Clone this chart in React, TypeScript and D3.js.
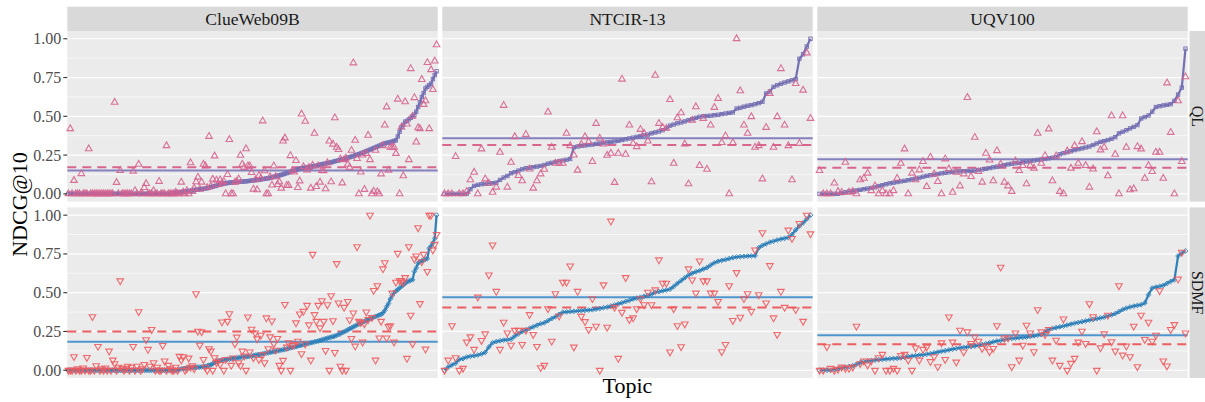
import React from 'react';
import * as d3 from 'd3';

// ---------------- DATA ----------------
const datasets = ['ClueWeb09B', 'NTCIR-13', 'UQV100'];
const methods = ['QL', 'SDMF'];
const yTicks = [0, 0.25, 0.5, 0.75, 1];
const yMinorTicks = [0.125, 0.375, 0.625, 0.875];

// ClueWeb09B, QL (sorted run values) and per-topic comparison values
const cwQLSorted = [
  0,0,0,0,0,0,0,0,0,0, 0,0,0,0,0,0,0,0,0,0, 0,0,0,0,0,0,0,0,0,0,
  0,0,0,0,0,0,0,0,0,0, 0,0,0,0,0,0,0,0,0,0, 0,0,0,0,0,0,
  0.003,0.005,0.008,0.01,0.01,0.012,0.014,0.015,
  0.016,0.018,0.02,0.022,0.024,0.026,0.028,0.03,0.031,0.033,0.034,0.036,
  0.04,0.043,0.047,0.05,0.053,0.057,0.06,0.063,0.065,0.068,0.07,
  0.072,0.073,0.074,0.075,0.076,0.077,0.078,0.079,0.08,0.081,0.082,0.084,0.085,
  0.087,0.088,0.09,0.091,0.093,0.095,0.097,0.099,0.1,
  0.103,0.106,0.11,0.113,0.116,0.119,0.122,0.126,0.13,
  0.134,0.138,0.142,0.146,0.15,0.154,0.157,0.161,0.165,
  0.167,0.169,0.171,0.173,0.175,0.177,0.179,0.182,0.185,
  0.188,0.191,0.193,0.196,0.198,0.2,0.203,0.206,0.21,
  0.213,0.216,0.219,0.222,0.225,0.228,0.232,0.236,0.24,
  0.244,0.248,0.252,0.256,0.261,0.265,0.27,
  0.275,0.28,0.285,0.29,0.295,0.3,
  0.305,0.31,0.315,0.32,0.325,
  0.328,0.331,0.334,0.337,0.341,0.345,
  0.37,0.4,0.43,0.445,0.465,0.47,0.48,0.49,0.5,0.51,0.53,0.56,0.59,0.625,0.65,0.68,0.69,0.7,0.71,0.74,0.765,0.79,
];
const cwQLOther = [
  0,0.42,0,0.086,0,0,0,0.13,0,0,
  0,0.29,0,0,0,0,0,0,0,0,
  0,0,0,0,0,0.59,0.073,0,0.15,0,
  0,0,0,0,0,0.146,0.02,0,0.19,0,
  0,0.04,0.066,0,0,0,0.02,0,0,0.08,
  0,0,0,0.31,0,0,0,0,0.01,0,
  0,0.075,0.01,0,0.02,0,0.2,0.015,0.036,0.077,
  0.107,0.03,0.075,0.19,0.18,0.04,0.37,0.05,0.094,0.244,
  0.088,0.06,0.09,0.07,0.08,0,0.124,0.35,0,0,
  0.075,0.08,0.096,0.248,0.19,0.17,0.29,0.18,0.18,0.137,
  0.03,0.09,0.026,0.118,0.1,0.47,0.148,0,0,0.11,
  0.056,0.18,0.11,0.06,0.077,0.036,0.34,0.36,0.054,0.054,
  0.246,0.15,0.14,0.214,0.04,0.083,0.514,0.175,0.467,0.154,
  0.17,0.036,0.184,0.39,0.047,0.18,0.075,0.15,0.148,0.032,
  0.2,0.34,0.077,0.32,0.49,0.3,0.285,0.225,0.07,0.22,
  0.23,0.19,0.17,0.28,0.844,0.345,0.227,0,0.14,0.25,
  0.028,0.26,0.377,0.22,0,0.017,0.28,0.013,0,0.128,
  0.31,0.443,0.56,0.152,0.3,0.3,0.3,0.26,0.61,0,
  0.43,0.116,0.593,0.45,0.22,0.807,0.5,0.62,0.334,0.426,
  0.42,0.737,0.576,0.6,0.846,0.42,0.8,0.672,0.856,0.961,
];

// ClueWeb09B, SDMF
const cwSDMFSorted = [
  0,0,0,0,0,0,0,0,0,0, 0,0,0,0,0,0,0,0,0,0, 0,0,0,0,0,0,0,0,0,0,
  0,0,0,0,0,0,0,0,0,0, 0,0,0,0,0,0,0,0,0,0, 0,0,0,0,0,0,0,0,0,0,
  0.005,0.008,0.01,0.012,0.014,0.015,0.016,0.017,0.018,0.019,0.02,0.02,0.021,
  0.023,0.025,0.028,0.032,0.035,0.042,0.05,0.056,0.06,
  0.062,0.064,0.066,0.068,0.07,0.072,0.074,0.076,0.077,
  0.079,0.081,0.083,0.085,0.086,0.087,0.089,0.091,0.092,
  0.094,0.097,0.099,0.101,0.103,0.106,0.108,0.111,0.113,
  0.115,0.118,0.12,0.122,0.125,0.127,0.13,0.132,0.135,
  0.138,0.141,0.144,0.147,0.15,0.153,0.156,0.159,0.162,
  0.165,0.168,0.171,0.174,0.177,0.18,0.183,0.186,0.188,
  0.192,0.196,0.2,0.203,0.207,0.21,0.213,0.217,0.22,
  0.225,0.23,0.236,0.242,0.248,0.254,0.26,0.267,0.273,
  0.28,0.286,0.292,0.298,0.305,0.31,0.315,0.321,0.327,
  0.332,0.337,0.342,0.347,0.351,0.356,0.36,
  0.37,0.385,0.41,0.43,0.46,0.48,0.5,0.51,0.52,0.53,0.54,
  0.55,0.56,0.57,0.575,0.58,0.583,0.637,0.66,0.69,0.7,0.705,0.71,0.715,0.72,0.786,0.8,0.82,0.85,1.0,
];
const cwSDMFOther = [
  0,0,0,0.088,0,0.01,0,0,0.015,0,
  0.083,0,0,0.346,0,0.03,0.154,0,0.01,0,
  0.015,0,0.124,0,0.066,0.043,0,0.02,0.577,0.013,
  0,0.01,0.026,0,0.02,0.154,0,0.026,0.378,0,
  0.01,0.038,0.197,0.135,0.026,0.263,0.049,0,0.02,0,
  0,0.16,0.06,0,0.032,0.01,0,0,0.02,0,
  0.09,0.066,0.088,0,0.01,0.079,0.02,0.03,0.01,0.494,
  0.252,0.162,0.248,0.07,0.02,0,0.139,0.124,0,0.081,
  0.05,0.06,0.038,0.312,0,0.07,0.316,0.365,0.032,0.08,
  0.171,0.214,0.049,0.03,0.124,0.092,0,0.344,0.118,0.265,
  0.081,0.241,0.203,0.07,0.226,0.1,0.049,0.338,0.139,0.216,
  0.318,0.171,0.13,0.205,0.032,0,0.064,0.425,0.15,0.177,
  0,0.16,0.167,0.306,0.188,0.363,0.107,0.38,0.17,0.419,
  0.293,0.066,0.748,0.359,0.316,0.419,0.274,0.449,0.316,0.128,
  0.423,0,0.481,0.32,0.115,0.688,0.434,0.026,0,0.406,
  0,0.444,0.325,0.205,0.37,0.156,0.797,0.316,0.308,0.182,
  0.3,0.376,0.327,1.0,0.34,0.515,0.066,0.545,0.209,0.316,
  0.654,0.694,0.209,0.282,0.288,0.498,0.182,0.568,0.754,0.579,
  0.577,0.568,0.598,0.077,0.797,0.355,0.171,0.718,0.737,0.919,
  0.43,0.7,0.748,0.137,0.637,1.0,1.0,0.776,0.812,0.876,
];

// NTCIR-13, QL
const ntQLSorted = [
  0,0,0,0,0,0,0,
  0.03,0.051,0.058,0.062,0.065,0.067,0.069,0.072,0.09,
  0.105,0.115,0.133,0.14,0.15,0.158,0.165,
  0.168,0.172,0.176,0.18,0.186,0.195,
  0.2,0.205,0.21,0.215,0.22,0.225,
  0.3,0.305,0.31,0.312,0.315,0.318,0.322,0.325,
  0.328,0.332,0.335,0.338,0.342,0.347,0.352,0.357,0.362,
  0.367,0.372,0.377,0.382,0.39,0.396,0.402,0.41,0.422,
  0.44,0.447,0.455,0.46,0.467,0.475,0.482,0.49,0.497,
  0.5,0.502,0.504,0.507,0.51,0.514,0.518,0.522,0.525,0.55,
  0.555,0.562,0.568,0.572,0.578,0.585,0.593,0.647,
  0.66,0.69,0.7,0.71,0.718,0.725,0.732,0.74,
  0.871,0.9,0.95,1.0,
];
const ntQLOther = [
  0,0,0,0.24,0,0,0.015,0.09,0.139,0,
  0.289,0.096,0.068,0.01,0.043,0.268,0.57,0.043,0.203,0.368,
  0.118,0.084,0.383,0.16,0.036,0.084,0.128,0.158,0.527,0.3,
  0.197,0.197,0.197,0.39,0.31,0.25,0.152,0.319,0.368,0.336,
  0.208,0.454,0.358,0.321,0.248,0.261,0.073,0.261,0.739,0.255,
  0.443,0.325,0.304,0.415,0.39,0.34,0.077,0.764,0.454,0.428,
  0.422,0.608,0.197,0.49,0.522,0.321,0.064,0.475,0.561,0.182,
  0.486,0.158,0.443,0.557,0.615,0.33,0.373,0,0.33,1.0,
  0.664,0.443,0.39,0.497,0.3,0.31,0.096,0.428,0.647,0.3,
  0.497,0.807,0.443,0.31,0.09,0.711,0.325,0.668,0.908,0.486,
];

// NTCIR-13, SDMF
const ntSDMFSorted = [
  0,0.02,0.034,0.045,0.07,0.075,0.085,0.09,0.094,0.098,
  0.105,0.115,0.15,0.177,0.185,0.19,0.194,0.197,0.2,0.22,
  0.235,0.25,0.26,0.27,0.28,0.29,0.3,0.306,0.32,0.333,
  0.345,0.36,0.374,0.376,0.378,0.38,0.382,0.384,0.386,0.388,
  0.39,0.394,0.398,0.403,0.407,0.414,0.421,0.428,0.435,0.443,
  0.45,0.459,0.465,0.47,0.476,0.481,0.49,0.503,0.507,0.512,
  0.517,0.522,0.54,0.56,0.578,0.596,0.613,0.625,0.635,0.642,
  0.652,0.662,0.678,0.693,0.702,0.708,0.713,0.72,0.726,0.73,
  0.732,0.734,0.736,0.737,0.738,0.79,0.805,0.815,0.825,0.832,
  0.84,0.845,0.85,0.856,0.875,0.905,0.93,0.95,0.975,1.0,
];
const ntSDMFOther = [
  0,0.066,0.288,0.081,0,0.013,0.182,0.216,0.135,0.472,
  0.192,0.235,0.615,0.808,0.509,0.135,0.31,0.241,0.162,0.258,
  0.258,0.167,0.258,0.359,0.231,0.154,0.017,0.032,0.397,0.188,
  0.494,0.35,0.568,0.568,0.673,0.15,0.509,0.348,0.314,0.263,
  0.462,0.284,0,0.551,0.278,0.962,0.406,0.077,0.374,0.598,
  0.327,0.338,0.397,0.462,0.423,0.504,0.423,0.519,0.712,0.562,
  0.562,0.118,0.397,0.288,0.152,0.299,0.654,0.583,0.498,0.705,
  0.577,0.577,0.498,0.498,0.444,0.12,0.167,0.545,0.321,0.63,
  0.342,0.462,0.494,0.38,0.776,0.487,0.887,0.434,0.675,0.338,
  0.231,0.509,0.406,0.904,0.85,0.391,0.947,0.316,1.0,0.88,
];

// UQV100, QL
const uqQLSorted = [
  0,0,0,0,0,0,0.005,0.01,0.015,0.018,
  0.022,0.026,0.03,0.034,0.038,0.042,0.05,0.056,0.062,0.068,
  0.072,0.076,0.08,0.084,0.088,0.093,0.098,0.104,0.11,0.116,
  0.12,0.124,0.128,0.132,0.136,0.139,0.142,0.144,0.145,0.146,
  0.147,0.148,0.15,0.153,0.157,0.161,0.166,0.171,0.175,0.18,
  0.185,0.19,0.194,0.197,0.2,0.204,0.208,0.211,0.215,0.219,
  0.222,0.225,0.229,0.233,0.236,0.255,0.262,0.268,0.275,0.282,
  0.288,0.293,0.299,0.305,0.315,0.325,0.335,0.34,0.347,0.355,
  0.365,0.39,0.4,0.41,0.422,0.432,0.443,0.486,0.495,0.505,
  0.53,0.56,0.565,0.57,0.574,0.578,0.6,0.64,0.685,0.936,
];
const uqQLOther = [
  0.15,0,0,0,0.069,0.015,0.009,0.203,0.01,0.015,
  0,0.09,0.1,0.133,0.02,0.051,0,0.02,0,0,
  0.02,0.1,0.197,0.289,0,0.133,0.09,0.154,0.208,0.047,
  0.236,0.128,0.079,0,0.225,0.16,0.01,0.139,0.051,0.128,
  0.621,0.111,0.364,0.143,0.075,0.261,0.218,0.084,0.278,0.191,
  0.075,0.051,0.015,0.212,0.15,0.182,0.064,0.182,0.165,0.39,
  0.197,0.246,0.418,0.084,0.244,0.015,0,0.276,0.165,0.31,
  0.197,0.336,0.182,0.043,0.16,0.4,0.283,0.3,0.116,0.503,
  0.255,0,0.503,0.3,0.026,0.032,0.304,0.289,0.1,0.182,
  0.143,0.268,0.268,0.1,0.715,0.396,0,0.6,0.208,0.754,
];

// UQV100, SDMF
const uqSDMFSorted = [
  0,0,0,0,0.006,0.01,0.015,0.019,0.024,0.028,
  0.038,0.049,0.055,0.06,0.062,0.065,0.068,0.07,0.072,0.074,
  0.076,0.077,0.08,0.084,0.088,0.091,0.094,0.097,0.1,0.103,
  0.107,0.112,0.117,0.122,0.126,0.131,0.136,0.14,0.145,0.147,
  0.15,0.153,0.156,0.161,0.166,0.171,0.177,0.183,0.188,0.192,
  0.197,0.203,0.205,0.207,0.21,0.212,0.214,0.218,0.222,0.226,
  0.23,0.245,0.263,0.269,0.275,0.28,0.285,0.291,0.297,0.303,
  0.308,0.313,0.318,0.323,0.327,0.332,0.337,0.342,0.35,0.357,
  0.365,0.378,0.391,0.4,0.408,0.413,0.418,0.423,0.434,0.487,
  0.53,0.536,0.541,0.547,0.56,0.573,0.583,0.737,0.755,0.769,
];
const uqSDMFOther = [
  0,0,0.152,0.013,0,0.006,0.021,0.013,0.013,0.021,
  0.284,0.043,0.06,0.034,0.06,0,0.081,0.103,0,0,
  0.013,0,0.096,0.103,0.066,0,0.145,0.066,0.135,0.15,
  0.056,0.088,0.023,0.177,0.07,0.344,0.182,0.053,0.259,0.118,
  0.248,0.173,0.214,0.188,0.141,0.156,0.12,0.141,0.288,0.665,
  0.209,0.209,0.023,0.241,0.066,0.162,0.291,0.241,0.12,0.391,
  0.248,0.231,0.263,0.066,0.194,0.032,0.331,0,0.045,0.077,
  0.182,0.252,0.173,0.429,0.346,0,0.145,0.235,0.355,0.184,
  0.124,0.545,0.098,0.156,0.088,0.284,0.023,0.355,0.199,0.31,
  0.188,0.226,0.513,0.06,0.028,0.263,0.295,0.588,0.761,0.241,
];

// Reference lines (means): [ClueWeb09B, NTCIR-13, UQV100]
const qlMeanSorted = [0.15, 0.358, 0.223];
const qlMeanOther = [0.171, 0.315, 0.169];
const sdmfMeanSorted = [0.184, 0.47, 0.226];
const sdmfMeanOther = [0.25, 0.404, 0.167];

// ---------------- LAYOUT / STYLE ----------------
const W = 1205;
const H = 402;
const FONT = '"Liberation Serif", "Times New Roman", serif';
const panelLeft = [67.3, 442.3, 817.3];
const PW = 370.4;
const rowTop = [31, 207.4];
const PH = 170.6;

const lineColor = ['#7570B3', '#2C7FB8'];
const meanColor = ['#8581BE', '#4F96CF'];
const otherColor = ['#D6628E', '#EE5A5E'];
const dashColor = ['#D8668F', '#EC5E62'];

const grid = [
  [
    { sorted: cwQLSorted, other: cwQLOther, mS: qlMeanSorted[0], mO: qlMeanOther[0] },
    { sorted: ntQLSorted, other: ntQLOther, mS: qlMeanSorted[1], mO: qlMeanOther[1] },
    { sorted: uqQLSorted, other: uqQLOther, mS: qlMeanSorted[2], mO: qlMeanOther[2] },
  ],
  [
    { sorted: cwSDMFSorted, other: cwSDMFOther, mS: sdmfMeanSorted[0], mO: sdmfMeanOther[0] },
    { sorted: ntSDMFSorted, other: ntSDMFOther, mS: sdmfMeanSorted[1], mO: sdmfMeanOther[1] },
    { sorted: uqSDMFSorted, other: uqSDMFOther, mS: sdmfMeanSorted[2], mO: sdmfMeanOther[2] },
  ],
];

const upTri = 'M0,-3.9L3.3,1.9L-3.3,1.9Z';
const downTri = 'M0,3.9L3.3,-1.9L-3.3,-1.9Z';

function Panel({ r, c }: { r: number; c: number }) {
  const d = grid[r][c];
  const left = panelLeft[c];
  const top = rowTop[r];
  const n = Math.max(d.sorted.length, d.other.length);
  const x = d3.scalePoint<number>().domain(d3.range(n)).range([left, left + PW]).padding(0.6);
  const y = d3.scaleLinear().domain([-0.05, 1.05]).range([top + PH, top]);
  const line = d3.line<number>().x((_, i) => x(i) as number).y((v) => y(v));
  const lc = lineColor[r];
  return (
    <g>
      <rect x={left} y={top} width={PW} height={PH} fill="#EBEBEB" />
      {yMinorTicks.map((t) => (
        <line key={'mn' + t} x1={left} x2={left + PW} y1={y(t)} y2={y(t)} stroke="#FFFFFF" strokeWidth={0.6} />
      ))}
      {yTicks.map((t) => (
        <line key={'mj' + t} x1={left} x2={left + PW} y1={y(t)} y2={y(t)} stroke="#FFFFFF" strokeWidth={1.2} />
      ))}
      <line x1={left} x2={left + PW} y1={y(d.mS)} y2={y(d.mS)} stroke={meanColor[r]} strokeWidth={2} />
      <line x1={left} x2={left + PW} y1={y(d.mO)} y2={y(d.mO)} stroke={dashColor[r]} strokeWidth={2} strokeDasharray="9,6" />
      <path d={line(d.sorted) || ''} fill="none" stroke={lc} strokeWidth={2.2} strokeLinejoin="round" />
      {d.sorted.map((v, i) =>
        r === 0 ? (
          <rect key={'p' + i} x={(x(i) as number) - 1.7} y={y(v) - 1.7} width={3.4} height={3.4} fill="none" stroke={lc} strokeWidth={0.9} />
        ) : (
          <path key={'p' + i} transform={`translate(${x(i)},${y(v)})`} d="M0,-2.4L2.4,0L0,2.4L-2.4,0Z" fill="none" stroke={lc} strokeWidth={0.9} />
        )
      )}
      {d.other.map((v, i) => (
        <path
          key={'o' + i}
          transform={`translate(${x(i)},${y(v)})`}
          d={r === 0 ? upTri : downTri}
          fill="none"
          stroke={otherColor[r]}
          strokeWidth={1.1}
          strokeOpacity={0.9}
        />
      ))}
      {c === 0 &&
        yTicks.map((t) => (
          <g key={'t' + t}>
            <line x1={left - 4} x2={left} y1={y(t)} y2={y(t)} stroke="#333333" strokeWidth={1.1} />
            <text x={left - 6} y={y(t)} dy="0.34em" textAnchor="end" fontSize={16} fill="#4D4D4D" fontFamily={FONT}>
              {d3.format('.2f')(t)}
            </text>
          </g>
        ))}
    </g>
  );
}

export default function App() {
  return (
    <svg
      width={W}
      height={H}
      viewBox={`0 0 ${W} ${H}`}
      style={{ position: 'absolute', left: 0, top: 0, display: 'block', background: '#FFFFFF' }}
    >
      <rect x={0} y={0} width={W} height={H} fill="#FFFFFF" />
      {datasets.map((name, c) => (
        <g key={'s' + name}>
          <rect x={panelLeft[c]} y={6.7} width={PW} height={24.3} fill="#D9D9D9" />
          <text x={panelLeft[c] + PW / 2} y={25} textAnchor="middle" fontSize={17.6} fill="#1A1A1A" fontFamily={FONT}>
            {name}
          </text>
        </g>
      ))}
      {methods.map((m, r) => (
        <g key={'r' + m}>
          <rect x={1189.5} y={rowTop[r]} width={30} height={PH} fill="#D9D9D9" />
          <text
            transform={`translate(1192,${rowTop[r] + PH / 2}) rotate(90)`}
            textAnchor="middle"
            fontSize={16}
            fill="#1A1A1A"
            fontFamily={FONT}
          >
            {m}
          </text>
        </g>
      ))}
      {[0, 1].map((r) => [0, 1, 2].map((c) => <Panel key={`${r}-${c}`} r={r} c={c} />))}
      <text x={(panelLeft[0] + panelLeft[2] + PW) / 2} y={393} textAnchor="middle" fontSize={22} fill="#000000" fontFamily={FONT}>
        Topic
      </text>
      <text
        transform={`translate(27,${(rowTop[0] + rowTop[1] + PH) / 2}) rotate(-90)`}
        textAnchor="middle"
        fontSize={22}
        fill="#000000"
        fontFamily={FONT}
      >
        NDCG@10
      </text>
    </svg>
  );
}
